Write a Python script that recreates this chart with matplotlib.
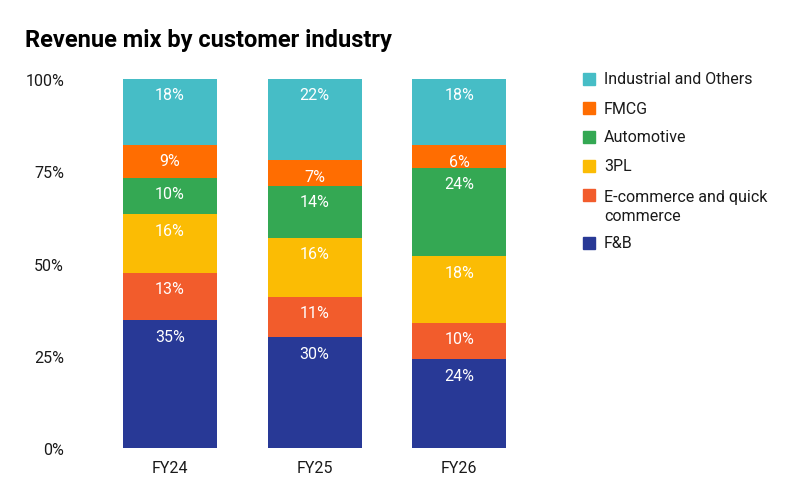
import numpy as np
import matplotlib.pyplot as plt
from matplotlib.patches import Rectangle

plt.rcParams['font.family'] = ['Roboto', 'DejaVu Sans']

years = ["FY24", "FY25", "FY26"]
segments = ["F&B", "E-commerce and quick\ncommerce", "3PL", "Automotive", "FMCG", "Industrial and Others"]
fnb = [35, 30, 24]
ecom = [13, 11, 10]
tpl = [16, 16, 18]
auto = [10, 14, 24]
fmcg = [9, 7, 6]
industrial = [18, 22, 18]
colors = ["#283996", "#F25C2C", "#FBBC04", "#34A853", "#FF6D01", "#46BDC6"]

series = np.array([fnb, ecom, tpl, auto, fmcg, industrial], dtype=float)
shares = series / series.sum(axis=0) * 100  # 100% stacked

fig = plt.figure(figsize=(8.1, 5.02), dpi=100)
ax = fig.add_axes([0.1204, 0.1056, 0.5358, 0.735])

x = np.arange(len(years))
bottom = np.zeros(len(years))
for vals, raw, col in zip(shares, series, colors):
    ax.bar(x, vals, bottom=bottom, width=0.65, color=col)
    for xi, b, v, r in zip(x, bottom, vals, raw):
        ax.annotate(f"{int(r)}%", xy=(xi, b + v), xytext=(0, -11.5),
                    textcoords="offset points", ha="center", va="center",
                    color="white", fontsize=11.5)
    bottom += vals

ax.set_xlim(-0.5, 2.5)
ax.set_ylim(0, 100)
ax.set_yticks([0, 25, 50, 75, 100])
ax.set_yticklabels(["0%", "25%", "50%", "75%", "100%"])
ax.set_xticks(x)
ax.set_xticklabels(years)
ax.tick_params(axis="y", length=0, pad=24, labelsize=11.5, colors="#1a1a1a")
ax.tick_params(axis="x", length=0, pad=9, labelsize=11.5, colors="#1a1a1a")
for s in ax.spines.values():
    s.set_visible(False)

fig.text(25 / 810, 1 - 40 / 502, "Revenue mix by customer industry",
         fontsize=17, fontweight="bold", va="center", ha="left")

# legend, drawn top to bottom
leg_y = [80, 109, 138, 167, 196, 244]
for name, col, yy in zip(segments[::-1], colors[::-1], leg_y):
    fig.patches.append(Rectangle((583 / 810, 1 - (yy + 6) / 502), 12 / 810, 12 / 502,
                                 transform=fig.transFigure, color=col))
    if "\n" in name:
        fig.text(604 / 810, 1 - (yy - 6) / 502, name, fontsize=11.5, color="#1a1a1a",
                 va="top", ha="left", linespacing=1.3)
    else:
        fig.text(604 / 810, 1 - yy / 502, name, fontsize=11.5, color="#1a1a1a",
                 va="center", ha="left")

fig.savefig("out.png", dpi=100)
